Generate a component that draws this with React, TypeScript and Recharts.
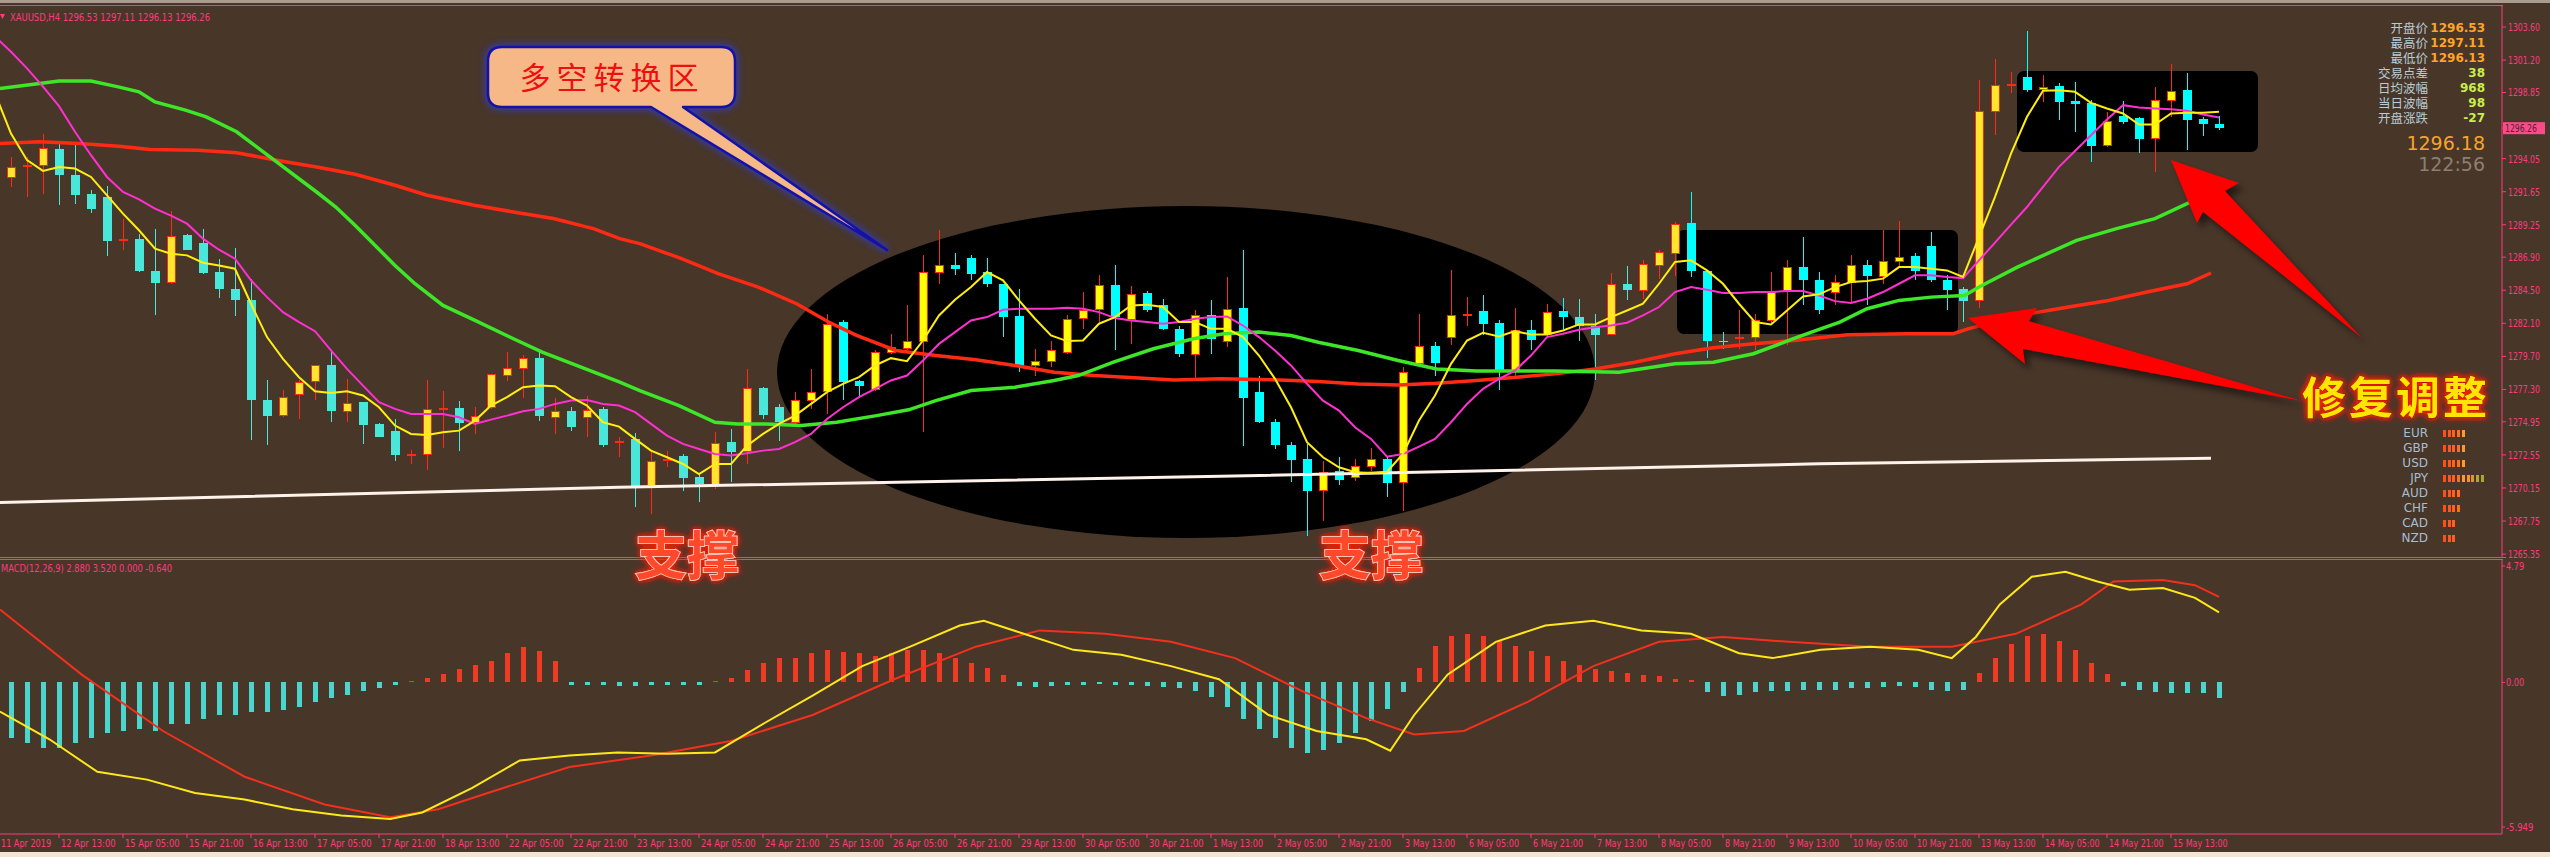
import React from 'react';
import { ComposedChart, Bar, Line, XAxis, YAxis } from 'recharts';

// ---- price data, one entry per H4 bar (k = 0..139) ----
const opens = [
  1290.9, 1292.72, 1293.55, 1293.62, 1294.78, 1292.89, 1291.49, 1291.27, 1288.15, 1288.24,
  1285.89, 1285.09, 1288.49, 1287.9, 1285.84, 1284.61, 1283.81, 1276.56, 1275.45, 1276.98,
  1277.88, 1279.04, 1275.77, 1276.37, 1274.8, 1274.27, 1272.55, 1272.62, 1275.9, 1275.96,
  1274.92, 1276.01, 1278.36, 1278.84, 1279.6, 1275.33, 1275.77, 1275.33, 1275.89, 1273.5,
  1273.71, 1270.37, 1272.22, 1272.5, 1270.92, 1270.39, 1273.52, 1272.86, 1277.41, 1276.06,
  1274.92, 1276.54, 1277.22, 1282.19, 1277.88, 1277.34, 1280.01, 1280.3, 1280.81, 1285.82,
  1286.3, 1286.84, 1285.82, 1284.97, 1282.6, 1279.04, 1279.35, 1280.01, 1282.48, 1283.16,
  1284.85, 1282.43, 1284.3, 1283.4, 1281.7, 1279.89, 1282.67, 1280.85, 1283.2, 1277.1,
  1274.92, 1273.3, 1272.25, 1270.0, 1271.41, 1270.92, 1271.77, 1272.25, 1270.56, 1279.21,
  1280.42, 1281.1, 1282.75, 1282.96, 1282.11, 1278.67, 1281.58, 1281.34, 1282.96, 1282.55,
  1281.94, 1281.29, 1284.97, 1284.49, 1286.35, 1287.23, 1289.38, 1285.89, 1280.85, 1281.0,
  1281.1, 1282.31, 1284.49, 1286.18, 1285.22, 1284.37, 1285.09, 1286.35, 1285.51, 1286.6,
  1286.96, 1287.69, 1285.27, 1284.61, 1283.76, 1297.52, 1299.45, 1299.94, 1299.1, 1299.31,
  1298.22, 1298.1, 1295.03, 1297.13, 1297.01, 1295.56, 1298.34, 1299.02, 1296.94, 1296.53,
];
const highs = [
  1292.9, 1294.18, 1294.18, 1295.87, 1295.1, 1295.27, 1291.76, 1292.07, 1289.7, 1288.61,
  1288.97, 1290.25, 1288.61, 1288.92, 1286.74, 1287.56, 1285.34, 1277.95, 1277.29, 1277.95,
  1279.04, 1280.01, 1278.07, 1276.4, 1274.87, 1275.16, 1272.91, 1277.95, 1277.22, 1276.45,
  1276.01, 1278.43, 1280.01, 1279.81, 1280.01, 1276.66, 1276.01, 1276.81, 1276.06, 1273.83,
  1274.12, 1272.74, 1272.81, 1272.62, 1271.16, 1274.19, 1274.44, 1278.79, 1277.46, 1276.25,
  1277.1, 1278.79, 1282.79, 1282.36, 1278.0, 1280.13, 1281.34, 1283.4, 1287.03, 1288.85,
  1287.2, 1287.03, 1286.84, 1284.97, 1284.61, 1280.25, 1280.81, 1282.67, 1284.37, 1285.58,
  1286.35, 1284.78, 1284.44, 1283.88, 1281.94, 1283.03, 1283.76, 1285.46, 1287.44, 1278.31,
  1275.16, 1273.47, 1273.34, 1272.13, 1272.38, 1272.25, 1273.05, 1272.38, 1278.92, 1282.79,
  1280.73, 1285.99, 1284.0, 1284.12, 1282.36, 1283.23, 1282.31, 1283.47, 1283.95, 1283.83,
  1282.79, 1285.75, 1286.23, 1286.72, 1287.39, 1289.45, 1291.63, 1285.99, 1281.46, 1283.03,
  1282.79, 1285.82, 1286.72, 1288.36, 1285.82, 1285.58, 1287.03, 1286.67, 1288.9, 1289.53,
  1287.2, 1288.73, 1285.58, 1284.73, 1299.75, 1301.25, 1300.36, 1303.31, 1300.11, 1299.51,
  1299.63, 1298.34, 1297.45, 1298.25, 1297.09, 1299.27, 1300.91, 1300.24, 1297.09, 1297.11,
];
const lows = [
  1290.5, 1292.0, 1291.27, 1291.51, 1290.67, 1290.79, 1290.13, 1286.98, 1287.39, 1285.8,
  1282.67, 1284.92, 1287.39, 1285.7, 1283.93, 1282.62, 1273.63, 1273.27, 1275.28, 1275.16,
  1276.56, 1274.92, 1274.97, 1273.34, 1273.83, 1272.13, 1271.89, 1271.45, 1273.03, 1272.81,
  1274.07, 1275.89, 1277.9, 1276.66, 1275.04, 1274.07, 1274.31, 1273.88, 1273.15, 1272.38,
  1268.74, 1268.26, 1271.65, 1269.95, 1269.11, 1270.07, 1270.56, 1271.89, 1275.16, 1273.59,
  1274.8, 1275.89, 1275.52, 1276.54, 1276.86, 1277.22, 1279.89, 1280.13, 1274.19, 1284.97,
  1285.58, 1285.22, 1284.73, 1281.1, 1278.55, 1278.31, 1278.96, 1279.89, 1281.7, 1282.19,
  1280.13, 1280.61, 1282.91, 1281.58, 1279.64, 1278.07, 1279.89, 1280.37, 1273.22, 1274.85,
  1272.98, 1270.56, 1266.68, 1267.77, 1270.39, 1270.68, 1271.41, 1269.52, 1268.5, 1279.16,
  1278.31, 1280.49, 1281.94, 1281.22, 1277.27, 1278.19, 1280.13, 1281.1, 1281.7, 1280.85,
  1277.95, 1281.22, 1283.76, 1283.88, 1285.34, 1285.5, 1285.46, 1279.6, 1280.25, 1280.25,
  1280.13, 1282.07, 1280.49, 1283.4, 1282.79, 1283.4, 1283.64, 1283.4, 1284.97, 1286.18,
  1285.22, 1285.1, 1283.03, 1282.19, 1283.23, 1295.75, 1298.78, 1298.9, 1298.17, 1296.89,
  1295.99, 1293.81, 1294.9, 1296.6, 1294.47, 1293.09, 1297.09, 1294.71, 1295.68, 1296.13,
];
const closes = [
  1292.6, 1293.45, 1293.6, 1294.83, 1292.89, 1291.44, 1290.37, 1288.07, 1288.25, 1285.87,
  1285.04, 1288.44, 1287.44, 1285.77, 1284.56, 1283.81, 1276.54, 1275.4, 1276.78, 1277.83,
  1279.04, 1275.77, 1276.33, 1274.75, 1273.88, 1272.55, 1272.6, 1275.89, 1275.96, 1274.85,
  1275.4, 1278.43, 1278.84, 1279.57, 1275.4, 1275.77, 1274.6, 1275.84, 1273.3, 1273.55,
  1270.32, 1272.13, 1272.27, 1270.87, 1270.44, 1273.39, 1272.79, 1277.41, 1275.48, 1274.92,
  1276.54, 1277.15, 1282.07, 1277.83, 1277.54, 1280.01, 1280.37, 1280.78, 1285.82, 1286.35,
  1286.06, 1285.7, 1284.92, 1282.55, 1278.96, 1279.35, 1280.13, 1282.43, 1283.08, 1284.85,
  1282.55, 1284.25, 1283.03, 1281.7, 1279.84, 1282.67, 1280.98, 1283.16, 1276.69, 1274.92,
  1273.3, 1272.18, 1269.95, 1271.29, 1270.73, 1271.77, 1272.25, 1270.51, 1278.55, 1280.42,
  1279.21, 1282.72, 1282.8, 1282.07, 1278.55, 1281.58, 1280.9, 1282.91, 1282.55, 1281.94,
  1281.22, 1284.97, 1284.49, 1286.38, 1287.27, 1289.33, 1285.89, 1280.81, 1280.8, 1281.1,
  1282.31, 1284.37, 1286.18, 1285.22, 1283.03, 1285.09, 1286.35, 1285.51, 1286.6, 1286.91,
  1285.89, 1285.22, 1284.54, 1283.71, 1297.5, 1299.43, 1299.5, 1299.02, 1299.27, 1298.17,
  1298.05, 1294.95, 1296.77, 1296.72, 1295.51, 1298.34, 1298.95, 1296.89, 1296.6, 1296.26,
];

// ---- moving averages ----
const maYellow = [
  1298.78, 1295.87, 1293.94, 1293.16, 1293.45, 1293.33, 1292.72, 1291.39, 1290.06, 1288.85,
  1287.52, 1287.15, 1287.03, 1286.5, 1286.3, 1286.06, 1283.52, 1281.1, 1279.52, 1278.19,
  1277.17, 1277.05, 1277.17, 1276.86, 1276.01, 1274.68, 1274.07, 1274.0, 1274.19, 1274.31,
  1275.04, 1276.13, 1276.74, 1277.46, 1277.58, 1277.53, 1276.74, 1276.13, 1274.92, 1274.6,
  1273.71, 1272.86, 1272.38, 1271.89, 1271.16, 1271.89, 1271.89, 1273.22, 1274.07, 1274.8,
  1275.4, 1276.25, 1277.1, 1277.71, 1278.19, 1279.04, 1279.57, 1279.35, 1280.85, 1282.67,
  1283.81, 1284.73, 1285.82, 1285.22, 1283.76, 1282.43, 1281.22, 1280.81, 1280.85, 1282.07,
  1282.55, 1283.4, 1283.45, 1283.28, 1282.19, 1282.19, 1281.7, 1281.7, 1281.1, 1279.76,
  1278.07, 1276.01, 1273.47, 1272.38, 1271.65, 1271.29, 1271.21, 1271.33, 1272.62, 1275.04,
  1276.86, 1279.16, 1280.85, 1281.41, 1281.15, 1281.53, 1281.29, 1281.29, 1281.58, 1282.02,
  1282.02, 1282.55, 1283.03, 1283.52, 1284.97, 1286.55, 1286.67, 1285.94, 1284.97, 1283.52,
  1282.19, 1282.02, 1283.03, 1284.05, 1284.2, 1284.73, 1285.09, 1285.17, 1285.34, 1286.18,
  1286.18, 1286.06, 1285.94, 1285.46, 1288.36, 1291.27, 1294.42, 1297.09, 1298.97, 1299.02,
  1298.9, 1298.1, 1297.69, 1297.33, 1296.53, 1296.53, 1297.33, 1297.38, 1297.38, 1297.45,
];
const maMagenta = [
  1302.9, 1301.81, 1300.6, 1299.27, 1297.86, 1296.0, 1294.3, 1292.72, 1291.63, 1291.1,
  1290.42, 1289.91, 1289.33, 1288.24, 1287.44, 1286.79, 1285.22, 1284.0, 1282.91, 1282.19,
  1281.53, 1280.13, 1278.79, 1277.58, 1276.37, 1275.89, 1275.52, 1275.52, 1275.52, 1275.28,
  1274.8, 1275.11, 1275.4, 1275.72, 1275.89, 1276.25, 1276.49, 1276.54, 1276.25, 1276.13,
  1275.65, 1274.8, 1273.95, 1273.35, 1272.98, 1272.62, 1272.5, 1272.67, 1272.86, 1272.98,
  1273.47, 1274.07, 1275.16, 1276.01, 1276.74, 1277.34, 1277.95, 1278.31, 1279.4, 1280.61,
  1281.46, 1282.31, 1282.55, 1283.08, 1283.16, 1283.16, 1283.16, 1283.23, 1283.16, 1282.91,
  1282.48, 1282.31, 1282.19, 1282.07, 1282.19, 1282.43, 1282.55, 1282.6, 1281.94, 1281.1,
  1280.13, 1279.04, 1277.71, 1276.49, 1275.77, 1274.56, 1273.71, 1272.42, 1272.62, 1273.15,
  1273.71, 1274.92, 1276.25, 1277.34, 1278.07, 1278.67, 1279.76, 1281.1, 1281.34, 1281.63,
  1281.82, 1281.94, 1282.14, 1282.67, 1283.28, 1284.37, 1284.73, 1284.54, 1284.3, 1284.3,
  1284.37, 1284.37, 1284.44, 1284.44, 1284.12, 1283.71, 1283.57, 1283.88, 1284.37, 1284.97,
  1285.58, 1285.58, 1285.46, 1285.38, 1286.67, 1287.95, 1289.26, 1290.54, 1292.0, 1293.45,
  1294.61, 1295.75, 1296.89, 1297.93, 1297.76, 1297.69, 1297.64, 1297.52, 1297.25, 1297.04,
];
// slower averages, read at [bar, price] points
const maGreen = [
  [0.31, 1299.14], [2.78, 1299.51], [4, 1299.68], [6, 1299.68], [7.7, 1299.26], [9, 1298.9],
  [10, 1298.17], [11.9, 1297.57], [13.2, 1297.08], [15.1, 1296.0], [17.6, 1293.81], [20.1, 1291.63],
  [21.3, 1290.54], [22.5, 1289.21], [25, 1286.3], [26.25, 1284.97], [28, 1283.4], [30, 1282.31],
  [32.4, 1280.98], [34.2, 1280.01], [36.1, 1279.16], [39.05, 1277.83], [40.3, 1277.22], [42.75, 1276.13],
  [45, 1274.92], [46.4, 1274.8], [48.2, 1274.8], [50.4, 1274.68], [52.6, 1274.92], [55.1, 1275.4],
  [57.1, 1275.82], [58.8, 1276.49], [61, 1277.22], [63.75, 1277.46], [66.2, 1277.95], [67.7, 1278.31],
  [69.9, 1279.28], [72.4, 1280.25], [74.9, 1280.98], [76.8, 1281.34], [79, 1281.46], [81, 1281.22],
  [82.7, 1280.73], [85.2, 1280.13], [87.7, 1279.4], [90.1, 1278.79], [92.6, 1278.63], [97.5, 1278.63],
  [101.5, 1278.55], [105, 1279.16], [107.4, 1279.28], [109.9, 1279.89], [112.4, 1280.98], [114.1, 1281.7],
  [115.3, 1282.19], [117, 1283.16], [119, 1283.76], [121, 1284.0], [123.1, 1284.12], [124, 1284.73],
  [126.4, 1286.18], [130.1, 1288.12], [132.6, 1288.97], [135, 1289.7], [137.1, 1290.83], [139, 1291.4],
];
const maRed = [
  [0.31, 1295.15], [2.78, 1295.27], [5.25, 1295.15], [7.73, 1294.95], [9.7, 1294.71], [12.66, 1294.66],
  [15.1, 1294.47], [17.6, 1293.94], [20.1, 1293.45], [22.5, 1292.92], [25, 1292.12], [27, 1291.39],
  [29.96, 1290.67], [32.4, 1290.18], [34.9, 1289.7], [37.4, 1288.97], [39.05, 1288.24], [40.3, 1287.88],
  [42.75, 1286.86], [45.2, 1285.7], [47.7, 1284.73], [50.1, 1283.52], [52.1, 1282.19], [53.85, 1281.22],
  [56.3, 1280.13], [58.8, 1279.76], [61.3, 1279.45], [63.75, 1279.04], [66.2, 1278.55], [68.7, 1278.31],
  [71.2, 1278.14], [73.7, 1277.99], [76.6, 1278.07], [80.3, 1277.99], [82.7, 1277.87], [85.2, 1277.7],
  [87.7, 1277.63], [90.1, 1277.75], [92.6, 1277.95], [95.1, 1278.19], [97.5, 1278.43], [100, 1278.79],
  [102.5, 1279.28], [105, 1279.89], [107.4, 1280.32], [109.9, 1280.61], [112.4, 1280.85], [115.8, 1281.27],
  [119.5, 1281.34], [122.4, 1281.34], [123.3, 1281.7], [127.1, 1282.79], [129.6, 1283.28], [132.1, 1283.76],
  [134.5, 1284.37], [137, 1284.97], [138.5, 1285.75],
];
const maWhite = [[0.31, 1269.1], [39, 1270.2], [76.6, 1271.0], [114, 1271.9], [138.5, 1272.3]];

// ---- MACD panel ----
const macdHist = [
  -2.2, -2.3, -2.5, -2.7, -2.7, -2.5, -2.3, -2.1, -2.0, -1.9,
  -2.0, -1.7, -1.7, -1.5, -1.35, -1.35, -1.2, -1.2, -1.15, -1.0,
  -0.8, -0.65, -0.5, -0.35, -0.25, -0.12, 0.05, 0.2, 0.35, 0.55,
  0.7, 0.9, 1.2, 1.45, 1.3, 0.9, -0.1, -0.12, -0.1, -0.15,
  -0.15, -0.12, -0.1, -0.1, -0.1, 0.05, 0.2, 0.5, 0.8, 1.0,
  1.0, 1.2, 1.35, 1.25, 1.2, 1.1, 1.2, 1.35, 1.35, 1.2,
  1.0, 0.8, 0.6, 0.3, -0.15, -0.2, -0.15, -0.12, -0.1, -0.08,
  -0.1, -0.12, -0.15, -0.2, -0.25, -0.35, -0.6, -1.0, -1.5, -1.9,
  -2.3, -2.7, -2.9, -2.8, -2.5, -2.1, -1.6, -1.1, -0.4, 0.6,
  1.5, 1.9, 2.0, 1.9, 1.7, 1.5, 1.3, 1.1, 0.9, 0.7,
  0.55, 0.45, 0.4, 0.3, 0.25, 0.15, 0.1, -0.4, -0.55, -0.5,
  -0.4, -0.35, -0.35, -0.3, -0.3, -0.3, -0.25, -0.25, -0.2, -0.15,
  -0.2, -0.3, -0.35, -0.3, 0.4, 1.0, 1.6, 1.9, 2.0, 1.7,
  1.35, 0.8, 0.35, -0.15, -0.3, -0.4, -0.45, -0.45, -0.45, -0.64,
];
const macdYellow = [
  [0.31, -1.2], [3.4, -2.34], [6.4, -3.68], [9.5, -4.0], [12.5, -4.55], [15.6, -4.82], [18.6, -5.22],
  [21.65, -5.48], [24.7, -5.62], [26.7, -5.35], [29.8, -4.35], [32.8, -3.21], [35.9, -3.01], [38.9, -2.88],
  [42, -2.94], [45, -2.88], [48.1, -1.67], [51.1, -0.54], [54.2, 0.67], [57.2, 1.47], [60.3, 2.34],
  [61.8, 2.54], [64.3, 2.0], [67.4, 1.34], [70.4, 1.14], [73.5, 0.67], [76.5, 0.13], [79.6, -1.34],
  [82.6, -2.0], [85.7, -2.34], [87.2, -2.81], [88.7, -1.34], [90.8, 0.33], [93.8, 1.67], [96.9, 2.34],
  [99.9, 2.54], [102.9, 2.14], [106, 2.0], [109, 1.2], [111.1, 1.0], [114.1, 1.34], [117.2, 1.47],
  [120.2, 1.34], [122.3, 1.0], [123.8, 1.87], [125.3, 3.21], [127.3, 4.35], [129.4, 4.55], [131.4, 4.15],
  [133.4, 3.81], [135.5, 3.88], [137.5, 3.48], [139, 2.88],
];
const macdRed = [
  [0.31, 3.0], [5.4, 0.33], [10.5, -2.0], [15.6, -3.88], [20.6, -5.02], [24.7, -5.55], [27.7, -5.22],
  [30.8, -4.55], [35.9, -3.48], [41, -3.01], [46, -2.41], [51.1, -1.34], [56.2, 0.13], [61.3, 1.47],
  [65.3, 2.14], [69.4, 2.0], [73.5, 1.67], [77.5, 1.0], [81.6, -0.33], [85.7, -1.47], [88.7, -2.14],
  [91.8, -2.0], [95.8, -0.8], [99.9, 0.67], [104, 1.67], [108, 1.87], [112.1, 1.67], [117.2, 1.47],
  [122.3, 1.47], [126.3, 2.0], [130.4, 3.21], [132.4, 4.15], [135.5, 4.21], [137.5, 4.0], [139, 3.52],
];

// ---- axis labels ----
const priceTicks = [
  1303.6, 1301.2, 1298.85, 1294.05, 1291.65, 1289.25, 1286.9, 1284.5, 1282.1, 1279.7,
  1277.3, 1274.95, 1272.55, 1270.15, 1267.75, 1265.35,
];
const lastPrice = 1296.26;
const macdTicks = [4.79, 0, -5.949];
const macdTickText = ['4.79', '0.00', '-5.949'];
const timeLabels = [
  '12 Apr 13:00', '15 Apr 05:00', '15 Apr 21:00', '16 Apr 13:00', '17 Apr 05:00', '17 Apr 21:00',
  '18 Apr 13:00', '22 Apr 05:00', '22 Apr 21:00', '23 Apr 13:00', '24 Apr 05:00', '24 Apr 21:00',
  '25 Apr 13:00', '26 Apr 05:00', '26 Apr 21:00', '29 Apr 13:00', '30 Apr 05:00', '30 Apr 21:00',
  '1 May 13:00', '2 May 05:00', '2 May 21:00', '3 May 13:00', '6 May 05:00', '6 May 21:00',
  '7 May 13:00', '8 May 05:00', '8 May 21:00', '9 May 13:00', '10 May 05:00', '10 May 21:00',
  '13 May 13:00', '14 May 05:00', '14 May 21:00', '15 May 13:00',
];
const timeLabelBars = timeLabels.map((_, i) => 4 + i * 4);

const infoLabels = ['开盘价', '最高价', '最低价', '交易点差', '日均波幅', '当日波幅', '开盘涨跌'];
const infoValues = ['1296.53', '1297.11', '1296.13', '38', '968', '98', '-27'];
const currencies = ['EUR', 'GBP', 'USD', 'JPY', 'AUD', 'CHF', 'CAD', 'NZD'];
const strength = [5, 5, 5, 9, 4, 4, 3, 3];

// ---- styling ----
const BG = '#483629';
const PINK = '#ff3a7e';
const NARROW = "'Liberation Sans Narrow', 'DejaVu Sans Condensed', Arial, sans-serif";
const CJK = "'Noto Sans CJK SC', 'Noto Sans CJK JP', sans-serif";
const X_DOMAIN = [0.3125, 156.6875];
const PRICE_DOMAIN = [1265.14, 1305.2];
const MACD_DOMAIN = [-6.237, 5.078];
const BODY_W = 9;

const ELL = { cx: 1186, cy: 372, rx: 409, ry: 166 };
const BOXES = [
  { x: 1677, y: 230, w: 281, h: 104 },
  { x: 2017, y: 71, w: 241, h: 81 },
];
const blockColors = ['#ff4e1e', '#ff561e', '#ff601f', '#ff6e20', '#ff9a2c', '#f2962a', '#d89a2c', '#b4a62e', '#a2aa30'];

const candles = opens.map((o, k) => ({ k, o, h: highs[k], l: lows[k], c: closes[k] }));
const histData = macdHist.map((v, k) => ({ k, v }));
const perBar = (arr: number[]) => arr.map((v, k) => ({ k, v }));
const pts = (arr: number[][]) => arr.map(([k, v]) => ({ k, v }));

function inDark(px: number, py: number) {
  const dx = (px - ELL.cx) / ELL.rx;
  const dy = (py - ELL.cy) / ELL.ry;
  if (dx * dx + dy * dy <= 1) return true;
  return BOXES.some((b) => px >= b.x && px <= b.x + b.w && py >= b.y && py <= b.y + b.h);
}

function Candle(props: any) {
  const { x, y, width, height, payload } = props;
  if (x == null || !payload) return null;
  const { o, h, l, c } = payload;
  const span = h - l || 1;
  const py = (v: number) => y + ((h - v) / span) * height;
  const mid = Math.round(x + width / 2);
  const cx = mid + 0.5;
  const left = mid - Math.floor(BODY_W / 2);
  const top = Math.round(py(Math.max(o, c)));
  const bot = Math.round(py(Math.min(o, c)));
  const bright = inDark(cx, (top + bot) / 2);
  if (c >= o) {
    const fill = bright ? '#ffff00' : '#ffe62c';
    return (
      <g shapeRendering="crispEdges">
        <line x1={cx} x2={cx} y1={y} y2={y + height} stroke="#ff2a14" />
        <rect x={left + 0.5} y={top + 0.5} width={BODY_W - 1} height={Math.max(bot - top, 1)} fill={fill} stroke="#ff2a14" />
      </g>
    );
  }
  const fill = bright ? '#00ffff' : '#4be6da';
  return (
    <g shapeRendering="crispEdges">
      <line x1={cx} x2={cx} y1={y} y2={y + height} stroke={fill} />
      <rect x={left} y={top} width={BODY_W} height={Math.max(bot - top, 1)} fill={fill} />
    </g>
  );
}

function HistBar(props: any) {
  const { x, y, width, height, payload } = props;
  if (x == null || !payload) return null;
  const mid = Math.round(x + width / 2);
  const top = Math.min(y, y + height);
  return (
    <rect
      x={mid - 2}
      y={top}
      width={5}
      height={Math.max(Math.abs(height), 1)}
      fill={payload.v >= 0 ? '#f03a26' : '#4ad6ce'}
      shapeRendering="crispEdges"
    />
  );
}

function AxisText({ x, y, text, fill = PINK, anchor = 'start' }: any) {
  return (
    <text
      x={x}
      y={y}
      fill={fill}
      fontSize={11}
      fontFamily={NARROW}
      textAnchor={anchor}
      textLength={text.length * 4.55}
      lengthAdjust="spacingAndGlyphs"
    >
      {text}
    </text>
  );
}

function PriceTick(props: any) {
  const { x, y, payload } = props;
  const v = payload.value;
  if (v === lastPrice) {
    return (
      <g>
        <rect x={x - 5} y={y - 6} width={42} height={12} fill="#ff4a8a" />
        <AxisText x={x - 3} y={y + 4} text={v.toFixed(2)} fill="#4a2630" />
      </g>
    );
  }
  return <AxisText x={x} y={y + 4} text={v.toFixed(2)} />;
}

function MacdTick(props: any) {
  const { x, y, payload } = props;
  const i = macdTicks.indexOf(payload.value);
  return <AxisText x={x - 1} y={y + 4} text={macdTickText[i]} />;
}

function TimeTick(props: any) {
  const { x, y, payload } = props;
  const i = timeLabelBars.indexOf(payload.value);
  return <AxisText x={x + 2} y={y + 7} text={timeLabels[i]} />;
}

const lineProps = { dataKey: 'v', dot: false, activeDot: false, isAnimationActive: false, type: 'linear' as const };

export default function App() {
  return (
    <div
      style={{
        position: 'absolute', left: 0, top: 0, width: 2550, height: 857,
        background: BG, overflow: 'hidden', fontFamily: NARROW,
      }}
    >
      <div style={{ position: 'absolute', left: 0, top: 0, width: 2550, height: 3, background: '#a89c8e' }} />
      <div style={{ position: 'absolute', left: 0, top: 852, width: 2550, height: 5, background: '#f4e4d4' }} />

      {/* dark highlight zones behind the candles */}
      <svg width={2550} height={857} style={{ position: 'absolute', left: 0, top: 0 }}>
        <ellipse cx={ELL.cx} cy={ELL.cy} rx={ELL.rx} ry={ELL.ry} fill="#000" />
        {BOXES.map((b, i) => (
          <rect key={i} x={b.x} y={b.y} width={b.w} height={b.h} rx={7} fill="#000" />
        ))}
      </svg>

      {/* frame lines */}
      <div style={{ position: 'absolute', left: 0, top: 5, width: 2503, height: 1, background: PINK }} />
      <div style={{ position: 'absolute', left: 0, top: 557, width: 2506, height: 1, background: PINK }} />
      <div style={{ position: 'absolute', left: 0, top: 559, width: 2503, height: 1, background: PINK }} />

      <div style={{ position: 'absolute', left: 0, top: 0 }}>
        <ComposedChart width={2550} height={560} data={candles} margin={{ top: 5, right: 0, bottom: 3, left: 0 }}>
          <XAxis type="number" dataKey="k" domain={X_DOMAIN} allowDataOverflow hide />
          <YAxis
            orientation="right"
            width={48}
            type="number"
            domain={PRICE_DOMAIN}
            allowDataOverflow
            ticks={[...priceTicks, lastPrice]}
            interval={0}
            tick={(p: any) => <PriceTick {...p} />}
            tickSize={4}
            tickLine={{ stroke: PINK }}
            axisLine={{ stroke: PINK }}
          />
          <Bar
            dataKey={(d: any) => [d.l, d.h]}
            barSize={BODY_W}
            isAnimationActive={false}
            shape={(p: any) => <Candle {...p} />}
          />
          <Line {...lineProps} data={pts(maWhite)} stroke="#fff2ea" strokeWidth={3} />
          <Line {...lineProps} data={pts(maRed)} stroke="#ff2a14" strokeWidth={3.5} />
          <Line {...lineProps} data={pts(maGreen)} stroke="#3ee628" strokeWidth={3.5} />
          <Line {...lineProps} data={perBar(maMagenta)} stroke="#ff30d0" strokeWidth={2} />
          <Line {...lineProps} data={perBar(maYellow)} stroke="#ffee10" strokeWidth={2} />
        </ComposedChart>
      </div>

      <div style={{ position: 'absolute', left: 0, top: 554 }}>
        <ComposedChart width={2550} height={303} data={histData} margin={{ top: 5, right: 0, bottom: 0, left: 0 }}>
          <XAxis
            type="number"
            dataKey="k"
            domain={X_DOMAIN}
            allowDataOverflow
            ticks={timeLabelBars}
            interval={0}
            height={23}
            tick={(p: any) => <TimeTick {...p} />}
            tickSize={4}
            tickLine={{ stroke: PINK }}
            axisLine={{ stroke: PINK }}
          />
          <YAxis
            orientation="right"
            width={48}
            type="number"
            domain={MACD_DOMAIN}
            allowDataOverflow
            ticks={macdTicks}
            interval={0}
            tick={(p: any) => <MacdTick {...p} />}
            tickSize={3}
            tickLine={{ stroke: PINK }}
            axisLine={{ stroke: PINK }}
          />
          <Bar dataKey="v" barSize={5} isAnimationActive={false} shape={(p: any) => <HistBar {...p} />} />
          <Line {...lineProps} data={pts(macdRed)} stroke="#f2301e" strokeWidth={2} />
          <Line {...lineProps} data={pts(macdYellow)} stroke="#ffe81a" strokeWidth={2} />
        </ComposedChart>
      </div>

      {/* annotations */}
      <svg width={2550} height={857} style={{ position: 'absolute', left: 0, top: 0, pointerEvents: 'none' }}>
        <defs>
          <filter id="soft" x="-10%" y="-10%" width="120%" height="120%">
            <feGaussianBlur stdDeviation="3" />
          </filter>
          <filter id="glowRed" x="-20%" y="-30%" width="140%" height="160%">
            <feGaussianBlur in="SourceAlpha" stdDeviation="3" result="b" />
            <feFlood floodColor="#ff2200" />
            <feComposite in2="b" operator="in" result="g" />
            <feMerge>
              <feMergeNode in="g" />
              <feMergeNode in="g" />
              <feMergeNode in="SourceGraphic" />
            </feMerge>
          </filter>
        </defs>

        <polygon points="0,14 5,14 2.5,19" fill={PINK} />
        <text x={10} y={21} fill={PINK} fontSize={11} fontFamily={NARROW} textLength={200} lengthAdjust="spacingAndGlyphs">
          XAUUSD,H4  1296.53 1297.11 1296.13 1296.26
        </text>
        <text x={1} y={572} fill={PINK} fontSize={11} fontFamily={NARROW} textLength={171} lengthAdjust="spacingAndGlyphs">
          MACD(12,26,9) 2.880 3.520 0.000 -0.640
        </text>
        <AxisText x={1} y={847} text="11 Apr 2019" />

        {/* callout */}
        <path
          d="M 502 47 H 721 Q 735 47 735 61 V 93 Q 735 107 721 107 H 683 L 887 250 L 651 107 H 502 Q 488 107 488 93 V 61 Q 488 47 502 47 Z"
          fill="none" stroke="#2a3cff" strokeWidth={7} opacity={0.55} filter="url(#soft)"
        />
        <path
          d="M 502 47 H 721 Q 735 47 735 61 V 93 Q 735 107 721 107 H 683 L 887 250 L 651 107 H 502 Q 488 107 488 93 V 61 Q 488 47 502 47 Z"
          fill="#f6b886" stroke="#1212a8" strokeWidth={2.5} strokeLinejoin="round"
        />
        <text x={612} y={89} textAnchor="middle" fill="#ee1010" fontSize={31} letterSpacing={6} fontFamily={CJK}>
          多空转换区
        </text>

        {/* arrows */}
        <g filter="url(#soft)" opacity={0.5} transform="translate(5,6)">
          <polygon points="1968,318 2037,308 2029,321 2302,401 2023,349 2025,364" fill="#000" />
          <polygon points="2171,160 2239,183 2225,191 2362,338 2203,212 2197,223" fill="#000" />
        </g>
        <polygon points="1968,318 2037,308 2029,321 2302,401 2023,349 2025,364" fill="#ff0000" />
        <polygon points="2171,160 2239,183 2225,191 2362,338 2203,212 2197,223" fill="#ff0000" />

        {/* labels */}
        <g filter="url(#glowRed)" fontFamily={CJK} fontWeight={700}>
          <text x={687} y={575} textAnchor="middle" fontSize={52} fill="#ff4a2a" stroke="#ffd8c8" strokeWidth={1.5} paintOrder="stroke">
            支撑
          </text>
          <text x={1371} y={575} textAnchor="middle" fontSize={52} fill="#ff4a2a" stroke="#ffd8c8" strokeWidth={1.5} paintOrder="stroke">
            支撑
          </text>
          <text x={2302} y={414} fontSize={44} letterSpacing={3} fill="#ffe600" stroke="#b01000" strokeWidth={1} paintOrder="stroke">
            修复调整
          </text>
        </g>
      </svg>

      {/* info panel */}
      {infoLabels.map((t, i) => (
        <div key={t} style={{ position: 'absolute', right: 122, top: 20 + i * 15, color: '#b8ccd6', fontSize: 12.5, fontFamily: CJK, lineHeight: '16px', whiteSpace: 'nowrap' }}>
          {t}
        </div>
      ))}
      {infoValues.map((t, i) => (
        <div key={i} style={{ position: 'absolute', right: 65, top: 20 + i * 15, color: i < 3 ? '#ffa424' : '#c8ee48', fontSize: 12, fontWeight: 700, fontFamily: "'DejaVu Sans', sans-serif", lineHeight: '16px' }}>
          {t}
        </div>
      ))}
      <div style={{ position: 'absolute', right: 65, top: 132, color: '#f5a52a', fontSize: 19, fontFamily: "'DejaVu Sans', sans-serif", lineHeight: '22px' }}>
        1296.18
      </div>
      <div style={{ position: 'absolute', right: 65, top: 153, color: '#8c8070', fontSize: 19, fontFamily: "'DejaVu Sans', sans-serif", lineHeight: '22px' }}>
        122:56
      </div>

      {/* currency strength */}
      {currencies.map((c, i) => (
        <React.Fragment key={c}>
          <div style={{ position: 'absolute', right: 122, top: 425 + i * 15, color: '#a6bed0', fontSize: 12, fontFamily: "'DejaVu Sans', sans-serif", lineHeight: '16px' }}>
            {c}
          </div>
          {Array.from({ length: strength[i] }).map((_, j) => (
            <div key={j} style={{ position: 'absolute', left: 2443 + j * 4.7, top: 430 + i * 15, width: 3, height: 7, background: blockColors[j] }} />
          ))}
        </React.Fragment>
      ))}
    </div>
  );
}
